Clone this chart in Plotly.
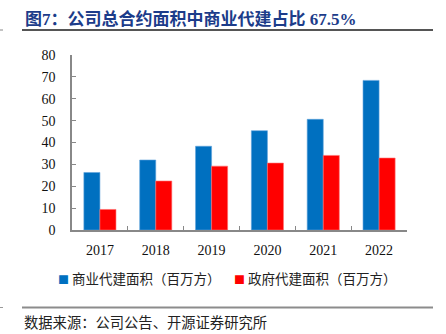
import plotly.graph_objects as go

# Annual contracted floor area, millions of square metres
years = ["2017", "2018", "2019", "2020", "2021", "2022"]
commercial = [26.3, 32.0, 38.3, 45.4, 50.6, 68.4]
government = [9.4, 22.4, 29.2, 30.6, 34.1, 32.9]

series_names = ["商业代建面积（百万方）", "政府代建面积（百万方）"]
title_parts = ["图", "7", "：公司总合约面积中商业代建占比", " 67.5%"]
source_text = "数据来源：公司公告、开源证券研究所"

BLUE = "#0070C0"
RED = "#FF0000"
AXIS = "#888888"
CJK = "Noto Sans CJK SC"
SERIF = "Liberation Serif"

fig = go.Figure()
fig.add_trace(go.Bar(x=years, y=commercial, name=series_names[0],
                     marker=dict(color=BLUE, line=dict(color="#5fa3dc", width=0.6)),
                     showlegend=False))
fig.add_trace(go.Bar(x=years, y=government, name=series_names[1],
                     marker=dict(color=RED, line=dict(color="#ff7070", width=0.6)),
                     showlegend=False))

W, H = 446, 334
L, R, T, B = 72, 39, 55, 104
pw, ph = W - L - R, H - T - B


def px(x):
    return (x - L) / pw


def py(y):
    return (H - B - y) / ph


fig.update_layout(
    width=W, height=H,
    margin=dict(l=L, r=R, t=T, b=B, pad=0),
    paper_bgcolor="white", plot_bgcolor="white",
    barmode="group", bargap=0.425, bargroupgap=0,
    xaxis=dict(type="category", showline=True, linecolor=AXIS, linewidth=1.5,
               ticks="inside", tickson="boundaries", ticklen=4, tickcolor=AXIS,
               tickwidth=1.2, showgrid=False, zeroline=False,
               tickfont=dict(family=SERIF, size=14, color="#111111"),
               ticklabelstandoff=6),
    yaxis=dict(range=[0, 80], dtick=10, showline=True, linecolor=AXIS, linewidth=1.5,
               ticks="inside", ticklen=4, tickcolor=AXIS, tickwidth=1.2,
               showgrid=False, zeroline=False,
               tickfont=dict(family=SERIF, size=14, color="#111111"),
               ticklabelstandoff=12),
)

shapes = [
    # rule under the heading
    dict(type="line", xref="paper", yref="paper", x0=px(22), x1=px(433),
         y0=py(30), y1=py(30), line=dict(color="#555555", width=2)),
    dict(type="line", xref="paper", yref="paper", x0=px(0), x1=px(3),
         y0=py(30), y1=py(30), line=dict(color="#888888", width=1)),
    # rule above the source note
    dict(type="line", xref="paper", yref="paper", x0=px(22), x1=px(433),
         y0=py(307.5), y1=py(307.5), line=dict(color="#8c8c8c", width=2)),
    dict(type="line", xref="paper", yref="paper", x0=px(0), x1=px(3),
         y0=py(307.5), y1=py(307.5), line=dict(color="#999999", width=1)),
]
fig.update_layout(shapes=shapes)

serif_span = "<span style='font-family:Liberation Serif'>{}</span>"
title_html = ("<b>" + title_parts[0] + serif_span.format(title_parts[1])
              + title_parts[2] + serif_span.format(title_parts[3]) + "</b>")

annotations = [
    dict(text=title_html, xref="paper", yref="paper",
         x=px(23), y=py(17), xanchor="left", yanchor="middle", showarrow=False,
         font=dict(family=CJK, size=17, color="#1c3c8a")),
    dict(text=source_text, xref="paper", yref="paper",
         x=px(22), y=py(321), xanchor="left", yanchor="middle", showarrow=False,
         font=dict(family=CJK, size=14.3, color="#222222")),
    # legend entries
    dict(text=f"<span style='color:{BLUE};font-size:11px'>■</span> {series_names[0]}",
         xref="paper", yref="paper", x=px(56), y=py(277.5), xanchor="left",
         yanchor="middle", showarrow=False,
         font=dict(family=CJK, size=13.5, color="#222222")),
    dict(text=f"<span style='color:{RED};font-size:11px'>■</span> {series_names[1]}",
         xref="paper", yref="paper", x=px(232), y=py(277.5), xanchor="left",
         yanchor="middle", showarrow=False,
         font=dict(family=CJK, size=13.5, color="#222222")),
]
fig.update_layout(annotations=annotations)

fig.write_html("out.html")
